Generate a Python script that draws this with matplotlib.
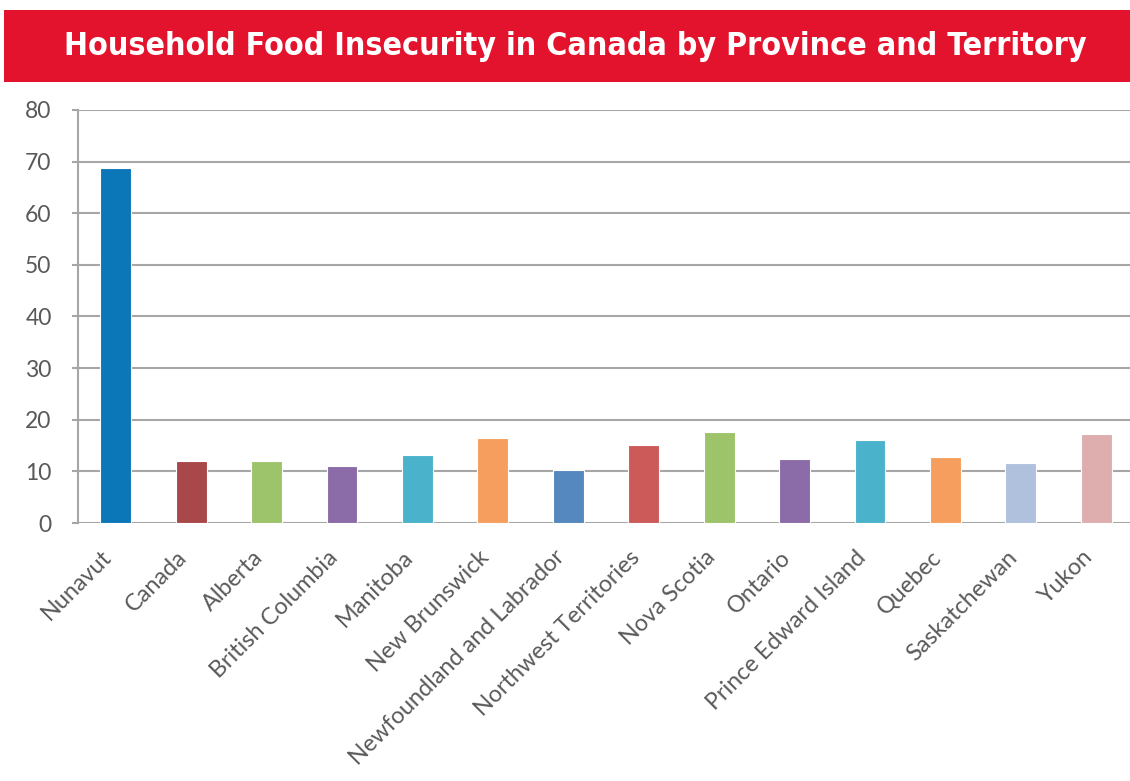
import matplotlib
matplotlib.use("Agg")
import matplotlib.pyplot as plt
from matplotlib.patches import Rectangle

title = "Household Food Insecurity in Canada by Province and Territory"
categories = ["Nunavut", "Canada", "Alberta", "British Columbia", "Manitoba",
              "New Brunswick", "Newfoundland and Labrador", "Northwest Territories",
              "Nova Scotia", "Ontario", "Prince Edward Island", "Quebec",
              "Saskatchewan", "Yukon"]
values = [68.8, 12.0, 12.0, 11.0, 13.2, 16.5, 10.3, 15.1, 17.6, 12.4, 16.1, 12.7, 11.7, 17.2]
colors = ["#0B76B8", "#A9484A", "#9DC36B", "#8B6BA8", "#4BB2CB", "#F69E5E", "#5588BE",
          "#CB5A59", "#9DC36B", "#8B6BA8", "#4BB2CB", "#F69E5E", "#AFC1DC", "#DEAEAE"]
yticks = [0, 10, 20, 30, 40, 50, 60, 70, 80]

W, H = 1130, 781
fig = plt.figure(figsize=(W / 100, H / 100), dpi=100)

# Title banner
fig.patches.append(Rectangle((4 / W, 1 - 82 / H), 1 - 4 / W, 72 / H,
                             transform=fig.transFigure, facecolor="#E4132D",
                             edgecolor="none"))
t = fig.text(575 / W, 1 - 47 / H, title, ha="center", va="center", color="white",
             fontsize=28, fontweight="bold", fontstretch="condensed",
             family=["DejaVu Sans"])
fig.canvas.draw()
r = fig.canvas.get_renderer()
wpx = t.get_window_extent(r).width
t.set_fontsize(min(28, 28 * 1026 / wpx))

ax = fig.add_axes([78 / W, 1 - 523 / H, (1134 - 78) / W, (523 - 110) / H])
x = list(range(len(categories)))
ax.bar(x, values, width=0.41, color=colors, edgecolor="white", linewidth=0.8, zorder=3)
ax.set_xlim(-0.5, len(categories) - 0.5)
ax.set_ylim(0, 80)
ax.set_yticks(yticks)
ax.yaxis.grid(True, color="#A6A6A6", linewidth=1.5, zorder=0)
ax.set_axisbelow(True)
for s in ["top", "right", "bottom"]:
    ax.spines[s].set_visible(False)
ax.spines["left"].set_color("#A6A6A6")
ax.spines["left"].set_linewidth(1.5)
ax.tick_params(axis="y", colors="#A6A6A6", length=4, width=1.5, labelcolor="#595959",
               labelsize=16.5, pad=15)
ax.set_xticks(x)
ax.set_xticklabels(categories, rotation=45, ha="right", va="top",
                   fontsize=16.8, color="#5a5a5a")
ax.tick_params(axis="x", length=0, pad=17)
for lab in ax.get_yticklabels() + ax.get_xticklabels():
    lab.set_family(["Lato", "DejaVu Sans"])

fig.savefig("out.png", dpi=100)
